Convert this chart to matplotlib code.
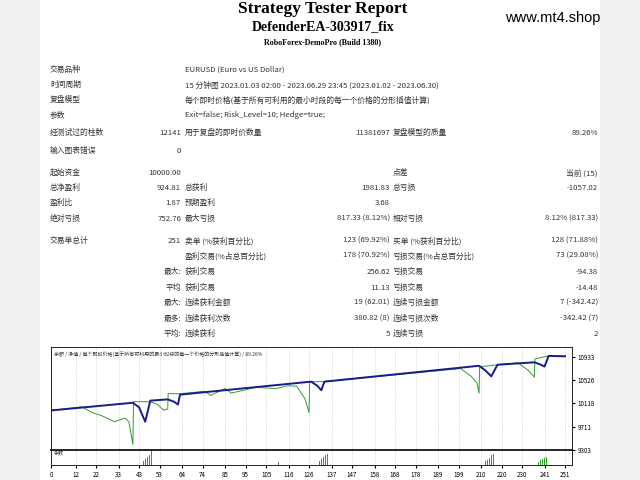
import matplotlib
matplotlib.use("Agg")
import matplotlib.pyplot as plt

plt.rcParams['font.family'] = ['Noto Sans CJK SC', 'DejaVu Sans']

# ---- data ----
bal_x = [0, 40, 43, 46, 48.5, 57, 60, 62, 63, 127, 130, 132, 133.5, 209, 212, 215, 218, 236, 239, 241, 243, 251]
bal_y = [9996, 10131, 10050, 9798, 10168, 10190, 10150, 10100, 10273, 10501, 10430, 10350, 10501, 10779, 10700, 10594, 10797, 10840, 10800, 10766, 10951, 10945]
eq_x = [0, 15, 20, 25, 31, 36, 38, 40, 40.3, 48.5, 52, 55, 57, 57.2, 63, 75, 78, 85, 88, 100, 110, 116, 120, 124, 126, 126.3, 133.5, 200, 205, 208, 209, 209.3, 218, 228, 233, 235.5, 236, 236.3, 243, 251]
eq_y = [9996, 10060, 9960, 9900, 9800, 9860, 9800, 9400, 10150, 10150, 10100, 10000, 10020, 10290, 10290, 10330, 10260, 10380, 10300, 10400, 10380, 10430, 10420, 10200, 9960, 10501, 10501, 10730, 10600, 10480, 10300, 10760, 10797, 10830, 10700, 10600, 10580, 10900, 10951, 10945]
lot_x = [45, 46, 47, 48, 49, 61, 62, 63, 86, 111, 131, 132, 133, 134, 135, 168, 211, 212, 213, 214, 215, 216, 238, 239, 240, 241, 242]
lot_y = [0.3, 0.45, 0.6, 0.75, 1.0, 0.3, 0.5, 0.6, 0.2, 0.2, 0.3, 0.45, 0.6, 0.7, 0.8, 0.2, 0.2, 0.3, 0.4, 0.55, 0.7, 0.8, 0.25, 0.35, 0.45, 0.55, 0.6]
xticks = [0, 12, 22, 33, 43, 53, 64, 74, 85, 95, 105, 116, 126, 137, 147, 158, 168, 178, 189, 199, 210, 220, 230, 241, 251]
yticks = [9303, 9711, 10118, 10526, 10933]

info_rows = [
    (70, "交易品种", "EURUSD (Euro vs US Dollar)"),
    (85, "时间周期", "15 分钟图 2023.01.03 02:00 - 2023.06.29 23:45 (2023.01.02 - 2023.06.30)"),
    (100, "复盘模型", "每个即时价格(基于所有可利用的最小时段的每一个价格的分形插值计算)"),
    (115, "参数", "Exit=false; Risk_Level=10; Hedge=true;"),
]
stat_rows = [
    (133, "经测试过的柱数", "12141", "用于复盘的即时价数量", "11381697", "复盘模型的质量", "89.26%"),
    (151, "输入图表错误", "0", "", "", "", ""),
    (173, "起始资金", "10000.00", "", "", "点差", "当前 (15)"),
    (188, "总净盈利", "924.81", "总获利", "1981.83", "总亏损", "-1057.02"),
    (203, "盈利比", "1.87", "预期盈利", "3.68", "", ""),
    (219, "绝对亏损", "752.76", "最大亏损", "817.33 (8.12%)", "相对亏损", "8.12% (817.33)"),
    (241, "交易单总计", "251", "卖单 (%获利百分比)", "123 (69.92%)", "买单 (%获利百分比)", "128 (71.88%)"),
    (256, "", "", "盈利交易(%占总百分比)", "178 (70.92%)", "亏损交易(%占总百分比)", "73 (29.08%)"),
    (272, "", "最大:", "获利交易", "256.62", "亏损交易", "-94.38"),
    (288, "", "平均", "获利交易", "11.13", "亏损交易", "-14.48"),
    (303, "", "最大:", "连续获利金额", "19 (62.01)", "连续亏损金额", "7 (-342.42)"),
    (319, "", "最多:", "连续获利次数", "380.82 (8)", "连续亏损次数", "-342.42 (7)"),
    (334, "", "平均:", "连续获利", "5", "连续亏损", "2"),
]

W, H = 640, 480
fig = plt.figure(figsize=(6.4, 4.8), dpi=100)
fig.patch.set_facecolor('#eef0f2')
bg = fig.add_axes([40 / W, 0, 560 / W, 1])
bg.set_facecolor('white'); bg.set_xticks([]); bg.set_yticks([])
for s in bg.spines.values():
    s.set_visible(False)

def T(x, y, s, **kw):
    fig.text(x / W, 1 - y / H, s, va='center', **kw)

T(323, 9, "Strategy Tester Report", ha='center', fontsize=12.5, fontweight='bold', family=['Liberation Serif'])
T(323, 27, "DefenderEA-303917_fix", ha='center', fontsize=10, fontweight='bold', family=['Liberation Serif'])
T(323, 42, "RoboForex-DemoPro (Build 1380)", ha='center', fontsize=5.8, fontweight='bold', family=['Liberation Serif'])
T(553, 18, "www.mt4.shop", ha='center', fontsize=10.5, family=['Liberation Sans'])

fs = 5.6
col = '#333333'
for y, a, b in info_rows:
    T(50, y, a, fontsize=fs, color=col)
    T(185, y, b, fontsize=fs, color=col)
for y, a, b, c, d, e, f in stat_rows:
    T(50, y, a, fontsize=fs, color=col)
    T(181, y, b, ha='right', fontsize=fs, color=col)
    T(185, y, c, fontsize=fs, color=col)
    T(390, y, d, ha='right', fontsize=fs, color=col)
    T(393, y, e, fontsize=fs, color=col)
    T(598, y, f, ha='right', fontsize=fs, color=col)

L, R = 51, 572
ax = fig.add_axes([L / W, 1 - 450 / H, (R - L) / W, 103 / H])
ax2 = fig.add_axes([L / W, 1 - 465 / H, (R - L) / W, 15 / H], sharex=ax)
ax.plot(eq_x, eq_y, color='#2e9e2e', lw=0.7)
ax.plot(bal_x, bal_y, color='#1a1a8c', lw=1.4)
ax.set_xlim(0, 254.4)
ax.set_ylim(9303, 11108)
ax.set_yticks(yticks)
ax.yaxis.tick_right()
ax.tick_params(axis='y', labelsize=4.5, length=2, pad=2)
ax.tick_params(axis='x', length=0, labelbottom=False)
ax.set_xticks(xticks)
ax.grid(True, axis='x', color='#bbbbbb', ls=':', lw=0.5)
ax.text(0.005, 0.93, "余额 / 净值 / 每个即时价格(基于所有可利用的最小时段的每一个价格的分形插值计算) / 89.26%",
        transform=ax.transAxes, fontsize=3.6, color='#333333', va='center')
ax2.bar(lot_x, lot_y, width=0.35, color='#2e9e2e')
ax2.set_ylim(0, 1.1)
ax2.set_yticks([])
ax2.grid(True, axis='x', color='#bbbbbb', ls=':', lw=0.5)
ax2.tick_params(axis='x', labelsize=4.5, length=2, pad=2)
ax2.text(0.005, 0.75, "手数", transform=ax2.transAxes, fontsize=3.6, color='#333333', va='center')
for a in (ax, ax2):
    for s in a.spines.values():
        s.set_linewidth(0.6)
ax.spines['bottom'].set_linewidth(1.2)

fig.savefig("out.png", dpi=100, facecolor=fig.get_facecolor())
